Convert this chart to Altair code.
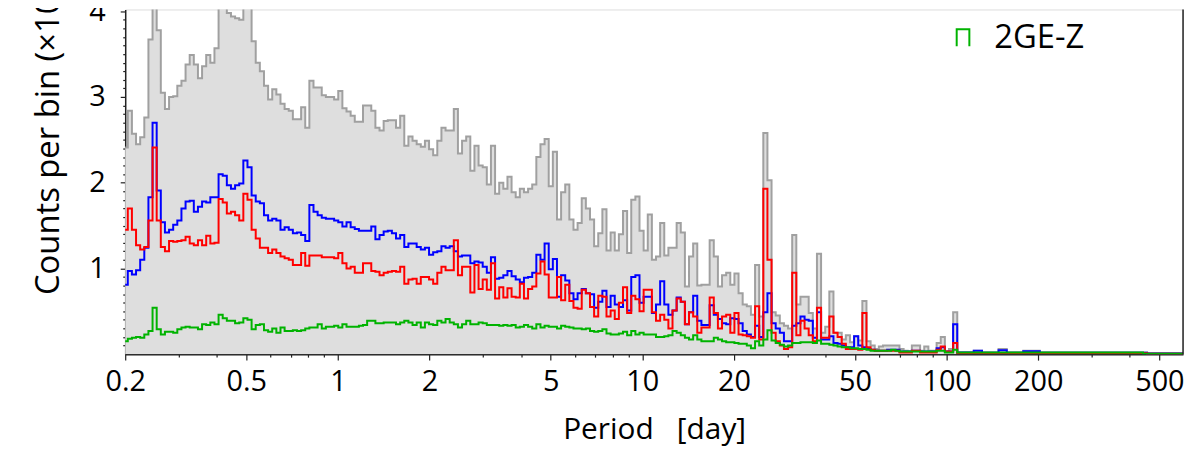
import altair as alt
import pandas as pd

# Histogram binning (log10 of period): first edge and bin width in dex
LOG_START = -0.70403
LOG_STEP = 0.013559

SERIES = ["2G", "2GE", "2G-Y", "2GE-Z"]
COLORS = ["#a0a0a0", "#0000ff", "#ff0000", "#00b300"]

X_MAJOR = [0.2, 0.5, 1, 2, 5, 10, 20, 50, 100, 200, 500]
X_MINOR = [0.3, 0.4, 0.6, 0.7, 0.8, 0.9, 3, 4, 6, 7, 8, 9,
           30, 40, 60, 70, 80, 90, 300, 400]
Y_MAJOR = [1, 2, 3, 4]
Y_MINOR = [0.1, 0.2, 0.3, 0.4, 0.5, 0.6, 0.7, 0.8, 0.9,
           1.1, 1.2, 1.3, 1.4, 1.5, 1.6, 1.7, 1.8, 1.9,
           2.1, 2.2, 2.3, 2.4, 2.5, 2.6, 2.7, 2.8, 2.9,
           3.1, 3.2, 3.3, 3.4, 3.5, 3.6, 3.7, 3.8, 3.9]

gray = [
    2.41, 2.84, 2.57, 2.45, 2.53, 2.76, 3.67, 4.6, 3.78, 3.05,
    2.86, 3.00, 3.01, 3.13, 3.19, 3.38, 3.49, 3.38, 3.22, 3.36,
    3.49, 3.40, 3.57, 4.4, 4.7, 3.98, 3.94, 3.92, 3.90, 4.5,
    4.3, 3.65, 3.40, 3.30, 3.13, 2.97, 3.09, 3.03, 2.92, 2.86,
    2.84, 2.74,
    2.74, 2.88, 2.64, 3.19, 3.11, 3.11, 3.02, 3.00, 3.00, 2.97,
    3.07, 2.87, 2.83, 2.78, 2.71, 2.71, 2.90, 2.90, 2.84, 2.64,
    2.61, 2.72, 2.73, 2.73, 2.64, 2.78, 2.43, 2.54, 2.49, 2.45,
    2.42, 2.49, 2.39, 2.32, 2.49, 2.64, 2.61, 2.61, 2.86, 2.34,
    2.49, 2.54, 2.14,
    2.43, 2.20, 2.18, 1.98, 2.43, 1.87, 2.00, 1.93, 2.07, 1.89,
    1.83, 1.93, 1.89, 1.93, 1.98, 2.30, 2.45, 2.51, 1.96, 2.36,
    1.57, 1.89, 1.98, 1.57, 1.45, 1.53, 1.82, 1.70, 1.57, 1.26,
    1.41, 1.69, 1.21, 1.42, 1.21, 1.40, 1.67, 1.18, 1.80, 1.84,
    1.44, 1.21,
    1.63, 1.10, 1.14, 1.53, 1.15, 1.24, 1.24, 1.53, 1.42, 0.79,
    1.14, 1.29, 0.80, 0.81, 0.81, 1.33, 1.14, 0.79, 0.92, 0.95,
    0.81, 0.94, 0.71, 0.58, 0.56, 0.46, 1.04, 0.44,
    2.58, 2.03, 0.49, 0.45, 0.36, 0.33, 0.30, 1.39, 0.58, 0.67,
    0.67, 0.48, 0.30, 1.17, 0.25, 0.32, 0.73, 0.25, 0.25, 0.17,
    0.22, 0.14, 0.21, 0.16, 0.62,
    0.15, 0.10, 0.06, 0.09, 0.10, 0.10, 0.10, 0.10, 0.06, 0.04,
    0.03, 0.10, 0.10, 0.04, 0.09, 0.04, 0.04, 0.13, 0.20, 0.03,
    0.06, 0.49,
    0.02, 0.02, 0.02, 0.02, 0.04, 0.04, 0.02, 0.02, 0.02, 0.02,
    0.06, 0.06, 0.02, 0.02, 0.02, 0.02, 0.04, 0.04, 0.04, 0.04,
    0.02, 0.02, 0.02, 0.02, 0.02, 0.02, 0.02, 0.02, 0.02, 0.02,
    0.02, 0.02, 0.02, 0.02, 0.02, 0.02, 0.02, 0.02, 0.02, 0.02,
    0.02, 0.02, 0.02, 0.02, 0.02, 0.02, 0.01, 0.01, 0.01, 0.01,
    0.01, 0.01, 0.01, 0.01, 0.01,
]

blue = [
    0.81, 0.97, 0.93, 0.98, 1.10, 1.24, 1.83, 2.70, 1.91, 1.54,
    1.42, 1.45, 1.51, 1.56, 1.70, 1.78, 1.79, 1.66, 1.72, 1.78,
    1.77, 1.83, 1.83, 2.10, 2.08, 1.97, 1.93, 1.97, 1.99, 2.26,
    2.18, 1.85, 1.78, 1.76, 1.62, 1.56, 1.58, 1.56, 1.45, 1.48,
    1.45, 1.41,
    1.42, 1.39, 1.32, 1.74, 1.66, 1.62, 1.59, 1.58, 1.58, 1.56,
    1.54, 1.49, 1.54, 1.48, 1.46, 1.44, 1.44, 1.44, 1.49, 1.34,
    1.39, 1.43, 1.44, 1.41, 1.35, 1.39, 1.25, 1.29, 1.29, 1.25,
    1.22, 1.24, 1.16, 1.19, 1.20, 1.26, 1.24, 1.26, 1.20, 1.14,
    1.15, 1.15, 1.06,
    1.08, 1.07, 1.02, 0.95, 1.13, 0.88, 0.89, 0.92, 0.97, 0.91,
    0.87, 0.84, 0.89, 0.90, 0.95, 1.16, 1.10, 1.29, 0.99, 1.11,
    0.67, 0.92, 0.86, 0.71, 0.64, 0.71, 0.76, 0.71, 0.70, 0.54,
    0.61, 0.74, 0.55, 0.68, 0.58, 0.55, 0.63, 0.51, 0.90, 0.92,
    0.60, 0.67,
    0.67, 0.48, 0.58, 0.85, 0.58, 0.46, 0.51, 0.66, 0.61, 0.35,
    0.49, 0.68, 0.39, 0.34, 0.34, 0.57, 0.46, 0.41, 0.36, 0.35,
    0.42, 0.41, 0.36, 0.27, 0.23, 0.20, 0.33, 0.20,
    0.49, 0.71, 0.36, 0.30, 0.25, 0.15, 0.15, 0.33, 0.36, 0.44,
    0.40, 0.39, 0.19, 0.49, 0.17, 0.17, 0.21, 0.13, 0.12, 0.10,
    0.08, 0.08, 0.21, 0.10, 0.08,
    0.06, 0.05, 0.04, 0.04, 0.04, 0.05, 0.05, 0.05, 0.03, 0.03,
    0.03, 0.04, 0.04, 0.03, 0.03, 0.03, 0.03, 0.07, 0.08, 0.03,
    0.03, 0.35,
    0.02, 0.02, 0.02, 0.02, 0.04, 0.04, 0.015, 0.015, 0.015, 0.015,
    0.045, 0.045, 0.015, 0.015, 0.015, 0.015, 0.035, 0.035, 0.035, 0.035,
    0.015, 0.015, 0.015, 0.015, 0.015, 0.015, 0.015, 0.015, 0.015, 0.015,
    0.015, 0.015, 0.015, 0.015, 0.015, 0.015, 0.015, 0.015, 0.015, 0.015,
    0.015, 0.015, 0.015, 0.015, 0.015, 0.015, 0.008, 0.008, 0.008, 0.008,
    0.008, 0.008, 0.008, 0.008, 0.008,
]

red = [
    1.45, 1.70, 1.45, 1.27, 1.22, 1.25, 1.56, 2.41, 1.56, 1.25,
    1.20, 1.32, 1.31, 1.32, 1.33, 1.37, 1.29, 1.27, 1.33, 1.27,
    1.38, 1.29, 1.30, 1.81, 1.77, 1.64, 1.66, 1.62, 1.56, 1.87,
    1.80, 1.45, 1.35, 1.24, 1.24, 1.18, 1.22, 1.18, 1.14, 1.12,
    1.10, 1.04,
    1.04, 1.18, 1.03, 1.15, 1.15, 1.15, 1.13, 1.13, 1.13, 1.12,
    1.18, 1.06, 1.00, 1.02, 0.95, 0.95, 1.06, 1.06, 0.97, 0.96,
    0.92, 0.95, 0.96, 0.97, 0.96, 1.02, 0.82, 0.87, 0.88, 0.82,
    0.90, 0.90, 0.87, 0.82, 0.95, 1.02, 0.98, 0.98, 1.33, 0.92,
    1.02, 1.02, 0.72,
    1.04, 0.76, 0.87, 0.75, 1.06, 0.65, 0.78, 0.66, 0.77, 0.67,
    0.66, 0.82, 0.65, 0.76, 0.79, 0.94, 1.08, 0.93, 0.66, 0.66,
    0.90, 0.63, 0.81, 0.62, 0.54, 0.53, 0.75, 0.71, 0.55, 0.44,
    0.68, 0.67, 0.44, 0.51, 0.41, 0.60, 0.78, 0.48, 0.68, 0.64,
    0.50, 0.75,
    0.75, 0.49, 0.39, 0.46, 0.40, 0.30, 0.51, 0.65, 0.61, 0.35,
    0.49, 0.44, 0.25, 0.31, 0.31, 0.66, 0.48, 0.30, 0.44, 0.46,
    0.25, 0.48, 0.23, 0.22, 0.21, 0.19, 0.56, 0.17,
    1.93, 1.10, 0.25, 0.15, 0.10, 0.06, 0.08, 0.95, 0.22, 0.39,
    0.30, 0.22, 0.15, 0.54, 0.19, 0.19, 0.44, 0.25, 0.20, 0.12,
    0.06, 0.06, 0.06, 0.05, 0.48,
    0.08, 0.05, 0.04, 0.04, 0.04, 0.04, 0.04, 0.04, 0.02, 0.02,
    0.02, 0.04, 0.04, 0.02, 0.02, 0.02, 0.02, 0.05, 0.09, 0.03,
    0.03, 0.13,
    0.012, 0.012, 0.012, 0.012, 0.012, 0.012, 0.012, 0.012, 0.012, 0.012,
    0.012, 0.012, 0.012, 0.012, 0.012, 0.012, 0.012, 0.012, 0.012, 0.012,
    0.012, 0.012, 0.012, 0.012, 0.012, 0.012, 0.012, 0.012, 0.012, 0.012,
    0.012, 0.012, 0.012, 0.012, 0.012, 0.012, 0.012, 0.012, 0.012, 0.012,
    0.012, 0.012, 0.012, 0.012, 0.012, 0.012, 0.004, 0.004, 0.004, 0.004,
    0.004, 0.004, 0.004, 0.004, 0.004,
]

green = [
    0.15, 0.18, 0.19, 0.20, 0.19, 0.23, 0.27, 0.54, 0.29, 0.23,
    0.26, 0.26, 0.25, 0.29, 0.31, 0.32, 0.31, 0.31, 0.29, 0.35,
    0.34, 0.37, 0.35, 0.46, 0.42, 0.39, 0.39, 0.36, 0.37, 0.42,
    0.40, 0.29, 0.34, 0.35, 0.28, 0.26, 0.30, 0.25, 0.31, 0.27,
    0.27, 0.28,
    0.27, 0.28, 0.30, 0.31, 0.31, 0.35, 0.30, 0.32, 0.32, 0.33,
    0.31, 0.35, 0.32, 0.32, 0.32, 0.33, 0.34, 0.39, 0.39, 0.36,
    0.36, 0.37, 0.37, 0.37, 0.35, 0.37, 0.39, 0.37, 0.34, 0.37,
    0.31, 0.37, 0.35, 0.34, 0.39, 0.37, 0.41, 0.37, 0.35, 0.31,
    0.35, 0.39, 0.35,
    0.35, 0.37, 0.36, 0.34, 0.34, 0.34, 0.33, 0.34, 0.33, 0.34,
    0.31, 0.32, 0.34, 0.32, 0.30, 0.35, 0.31, 0.33, 0.32, 0.32,
    0.30, 0.33, 0.32, 0.31, 0.30, 0.30, 0.29, 0.30, 0.27, 0.26,
    0.27, 0.29, 0.24, 0.23, 0.23, 0.24, 0.26, 0.22, 0.27, 0.23,
    0.25, 0.23,
    0.23, 0.23, 0.20, 0.20, 0.21, 0.22, 0.27, 0.25, 0.22, 0.19,
    0.17, 0.22, 0.17, 0.15, 0.15, 0.15, 0.19, 0.17, 0.15, 0.14,
    0.14, 0.13, 0.12, 0.12, 0.10, 0.07, 0.15, 0.10,
    0.17, 0.28, 0.16, 0.13, 0.11, 0.09, 0.10, 0.13, 0.13, 0.14,
    0.14, 0.14, 0.13, 0.16, 0.12, 0.12, 0.11, 0.10, 0.09, 0.08,
    0.08, 0.07, 0.07, 0.06, 0.06,
    0.05, 0.04, 0.04, 0.04, 0.04, 0.04, 0.05, 0.04, 0.03, 0.03,
    0.03, 0.03, 0.03, 0.03, 0.03, 0.03, 0.03, 0.04, 0.04, 0.02,
    0.02, 0.05,
    0.018, 0.018, 0.018, 0.018, 0.018, 0.018, 0.018, 0.018, 0.018, 0.018,
    0.018, 0.018, 0.018, 0.018, 0.018, 0.018, 0.018, 0.018, 0.018, 0.018,
    0.018, 0.018, 0.018, 0.018, 0.018, 0.018, 0.018, 0.018, 0.018, 0.018,
    0.018, 0.018, 0.018, 0.018, 0.018, 0.018, 0.018, 0.018, 0.018, 0.018,
    0.018, 0.018, 0.018, 0.018, 0.018, 0.005, 0.005, 0.005, 0.005, 0.005,
    0.005, 0.005, 0.005, 0.005, 0.005,
]

VALUES = [gray, blue, red, green]
N = len(gray)

rows = []
for name, vals in zip(SERIES, VALUES):
    edges = [10 ** (LOG_START + LOG_STEP * k) for k in range(len(vals) + 1)]
    rows.append(dict(series=name, P=edges[0], v=0.0, ord=0))
    for k, v in enumerate(vals):
        rows.append(dict(series=name, P=edges[k], v=v, ord=k + 1))
    rows.append(dict(series=name, P=edges[-1], v=vals[-1], ord=len(vals) + 1))
    rows.append(dict(series=name, P=edges[-1], v=0.0, ord=len(vals) + 2))
df = pd.DataFrame(rows)

W, H = 1065, 347
FONT = "Open Sans"
AX = "#222222"

major_x_js = "[" + ",".join(str(v) for v in X_MAJOR) + "]"

x_enc = alt.X(
    "P:Q",
    scale=alt.Scale(type="log", domain=[0.2, 598], nice=False),
    axis=alt.Axis(
        values=X_MAJOR + X_MINOR,
        labelExpr=f"indexof({major_x_js}, datum.value) >= 0 ? format(datum.value, '~g') : ''",
        tickSize={"condition": {"test": f"indexof({major_x_js}, datum.value) >= 0", "value": 6}, "value": 3},
        labelFlush=False,
        labelOverlap=False,
        labelFontSize=29,
        labelFont=FONT,
        labelColor="black",
        labelPadding=8,
        title="Period\u00a0\u00a0\u00a0[day]",
        titleFont=FONT,
        titleFontSize=30,
        titleFontWeight="normal",
        titleColor="black",
        titleBaseline="alphabetic",
        titleY=85,
        grid=False,
        domainColor=AX,
        domainWidth=1.5,
        tickColor=AX,
        tickWidth=1.2,
    ),
)

y_enc = alt.Y(
    "v:Q",
    scale=alt.Scale(domain=[0, 4.021], nice=False, zero=False),
    axis=alt.Axis(
        values=Y_MAJOR + Y_MINOR,
        labelExpr="abs(datum.value - round(datum.value)) < 0.001 ? format(datum.value, 'd') : ''",
        tickSize={"condition": {"test": "abs(datum.value - round(datum.value)) < 0.001", "value": 5}, "value": 2.5},
        labelFlush=False,
        labelOverlap=False,
        labelFontSize=29,
        labelFont=FONT,
        labelColor="black",
        labelPadding=15,
        title="Counts per bin (\u00d710\u00b3)",
        titleFont=FONT,
        titleFontSize=33,
        titleFontWeight="normal",
        titleColor="black",
        titleAngle=270,
        titleAlign="left",
        titleBaseline="alphabetic",
        titleX=-67,
        titleY=287,
        grid=False,
        domainColor=AX,
        domainWidth=1.5,
        tickColor=AX,
        tickWidth=1.2,
    ),
)

color_enc = alt.Color(
    "series:N",
    scale=alt.Scale(domain=SERIES, range=COLORS),
    legend=alt.Legend(
        orient="none",
        legendX=827,
        legendY=-114,
        title=None,
        symbolType="M-0.75,1L-0.75,-1L0.75,-1L0.75,1",
        symbolSize=289,
        symbolStrokeWidth=2,
        symbolFillColor="transparent",
        labelFont=FONT,
        labelFontSize=33,
        labelColor="black",
        labelOffset=15,
        rowPadding=8,
        padding=0,
    ),
)

base = alt.Chart(df)

area = base.transform_filter(
    f"datum.series == '{SERIES[0]}' && datum.ord > 0 && datum.ord <= {N + 1}"
).mark_area(interpolate="step-after", color="#dedede", clip=True).encode(x=x_enc, y=y_enc)

lines = []
for name in SERIES:
    lines.append(
        base.transform_filter(f"datum.series == '{name}'")
        .mark_line(interpolate="step-after", strokeWidth=2, clip=True)
        .encode(x=x_enc, y=y_enc, color=color_enc, order=alt.Order("ord:Q"))
    )

frame = alt.Chart(pd.DataFrame({"a": [0]})).mark_rule(color=AX, strokeWidth=1.5).encode(
    x=alt.value(W), y=alt.value(0), y2=alt.value(H)
)

chart = alt.layer(area, *lines, frame).properties(
    width=W,
    height=H,
    autosize=alt.AutoSizeParams(type="none"),
    padding={"left": 118, "top": 0, "right": 5, "bottom": 94},
).configure_view(stroke=None).configure(background="white")

chart.save("out.html", embed_options={"renderer": "svg", "actions": False})
